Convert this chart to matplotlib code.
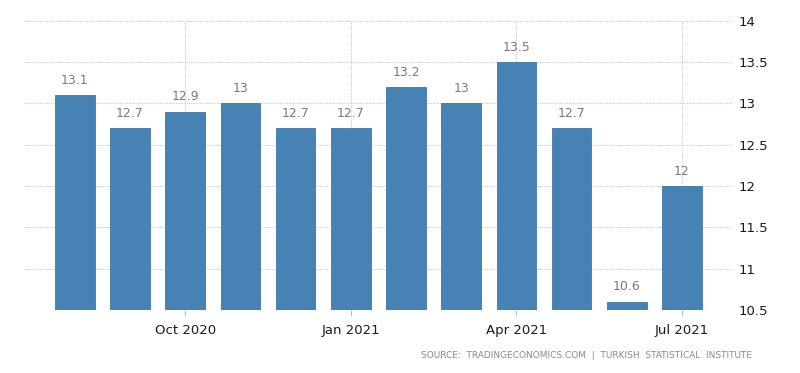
import matplotlib
matplotlib.use("Agg")
from matplotlib import pyplot as plt

months = ["Aug 2020", "Sep 2020", "Oct 2020", "Nov 2020", "Dec 2020", "Jan 2021",
          "Feb 2021", "Mar 2021", "Apr 2021", "May 2021", "Jun 2021", "Jul 2021"]
values = [13.1, 12.7, 12.9, 13.0, 12.7, 12.7, 13.2, 13.0, 13.5, 12.7, 10.6, 12.0]
tick_idx = [2, 5, 8, 11]
tick_labels = ["Oct 2020", "Jan 2021", "Apr 2021", "Jul 2021"]
yticks = [10.5, 11, 11.5, 12, 12.5, 13, 13.5, 14]

fig = plt.figure(figsize=(8, 3.73), dpi=100)
ax = fig.add_axes([0.03, 0.169, 0.886, 0.775])

x = list(range(len(values)))
ax.bar(x, [v - 10.5 for v in values], bottom=10.5, width=0.72,
       color="#4682b4", edgecolor="#3f77a6", linewidth=0.6, zorder=3)

# value labels above bars
for xi, v in zip(x, values):
    ax.text(xi, v + 0.1, f"{v:g}", ha="center", va="bottom", fontsize=9,
            color="#7a7a7a", zorder=4)

ax.set_xlim(-0.92, 11.92)
ax.set_ylim(10.5, 14)
ax.set_xticks(tick_idx)
ax.set_xticklabels(tick_labels)
ax.set_yticks(yticks)
ax.set_yticklabels([f"{t:g}" for t in yticks])
ax.yaxis.tick_right()
ax.tick_params(axis="y", length=0, pad=4, labelsize=9.5, labelcolor="#1a1a1a")
ax.tick_params(axis="x", length=4, color="#bbbbbb", pad=6, labelsize=9.5,
               labelcolor="#1a1a1a")

ax.grid(True, axis="both", linestyle=(0, (1, 1)), color="#cccccc", linewidth=0.8,
        zorder=0)
for s in ax.spines.values():
    s.set_visible(False)

fig.text(0.94, 0.035, "SOURCE:  TRADINGECONOMICS.COM  |  TURKISH  STATISTICAL  INSTITUTE",
         ha="right", va="bottom", fontsize=6.5, color="#8a8a8a")

fig.savefig("out.png", dpi=100)
